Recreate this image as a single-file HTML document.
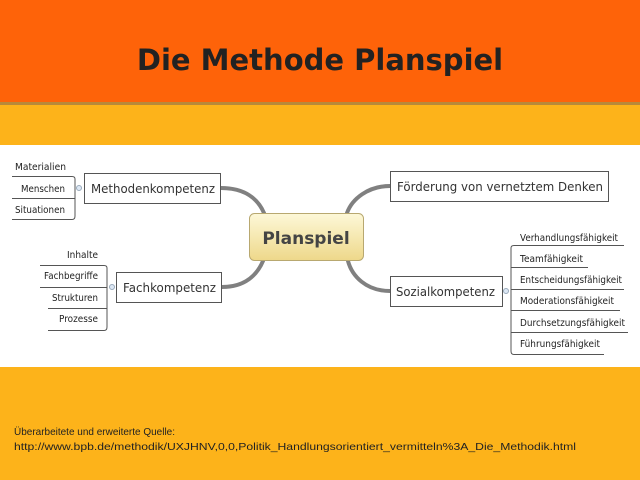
<!DOCTYPE html>
<html><head><meta charset="utf-8"><style>
html,body{margin:0;padding:0;width:640px;height:480px;overflow:hidden;background:#fff}
</style></head><body>
<svg width="640" height="480" viewBox="0 0 640 480" xmlns="http://www.w3.org/2000/svg" font-family="DejaVu Sans, Liberation Sans, sans-serif">
<defs>
<linearGradient id="g" x1="0" y1="0" x2="0" y2="1">
<stop offset="0" stop-color="#fdf8d8"/><stop offset="1" stop-color="#eed88a"/>
</linearGradient>
</defs>
<rect x="0" y="0" width="640" height="102" fill="#fe6309"/>
<rect x="0" y="102" width="640" height="3" fill="#b8893a"/>
<rect x="0" y="105" width="640" height="40" fill="#fdb31a"/>
<rect x="0" y="367" width="640" height="113" fill="#fdb31a"/>
<text x="320" y="70" text-anchor="middle" font-size="29" font-weight="bold" fill="#222">Die Methode Planspiel</text>

<g fill="none" stroke="#808080" stroke-width="4" stroke-linecap="round">
<path d="M221,188 C245,188 258,199 264,213"/>
<path d="M390,186 C368,186 352,199 347,213"/>
<path d="M222,287 C245,287 257,275 263,261"/>
<path d="M390,291 C366,291 352,276 348,261"/>
</g>
<rect x="249.5" y="213.5" width="114" height="47" rx="5" fill="url(#g)" stroke="#b8a870"/>
<text x="306" y="244" text-anchor="middle" font-size="17" font-weight="bold" fill="#444">Planspiel</text>

<g fill="#fff" stroke="#555">
<rect x="84.5" y="173.5" width="136" height="30"/>
<rect x="116.5" y="272.5" width="105" height="30"/>
<rect x="390.5" y="171.5" width="218" height="30"/>
<rect x="390.5" y="276.5" width="112" height="30"/>
</g>
<g font-size="12.5" fill="#333" lengthAdjust="spacingAndGlyphs">
<text x="91" y="193" textLength="124" lengthAdjust="spacingAndGlyphs">Methodenkompetenz</text>
<text x="123" y="292" textLength="93" lengthAdjust="spacingAndGlyphs">Fachkompetenz</text>
<text x="397" y="191" textLength="206" lengthAdjust="spacingAndGlyphs">Förderung von vernetztem Denken</text>
<text x="396" y="296" textLength="99" lengthAdjust="spacingAndGlyphs">Sozialkompetenz</text>
</g>
<g fill="#dde8f5" stroke="#9ab">
<circle cx="79" cy="188" r="2.5"/><circle cx="112" cy="287" r="2.5"/><circle cx="506" cy="291" r="2.5"/>
</g>
<g fill="none" stroke="#555" stroke-width="1">
<path d="M12,176.5 H72 Q75,176.5 75,179 V216 Q75,219.5 72,219.5 H12"/>
<path d="M12,198.5 H75"/>
<path d="M40,265.5 H104 Q107,265.5 107,268 V327 Q107,330.5 104,330.5 H48"/>
<path d="M40,287.5 H107 M48,308.5 H107"/>
<path d="M624,245.5 H514 Q511,245.5 511,248 V351 Q511,354.5 514,354.5 H604"/>
<path d="M511,267.5 H588 M511,289.5 H624 M511,310.5 H620 M511,332.5 H628"/>
</g>
<g font-size="9.5" fill="#222">
<text x="15" y="170" textLength="51" lengthAdjust="spacingAndGlyphs">Materialien</text>
<text x="21" y="192" textLength="44" lengthAdjust="spacingAndGlyphs">Menschen</text>
<text x="15" y="213" textLength="50" lengthAdjust="spacingAndGlyphs">Situationen</text>
<text x="67" y="258" textLength="31" lengthAdjust="spacingAndGlyphs">Inhalte</text>
<text x="44" y="279" textLength="54" lengthAdjust="spacingAndGlyphs">Fachbegriffe</text>
<text x="52" y="301" textLength="46" lengthAdjust="spacingAndGlyphs">Strukturen</text>
<text x="59" y="322" textLength="39" lengthAdjust="spacingAndGlyphs">Prozesse</text>
<text x="520" y="241" textLength="98" lengthAdjust="spacingAndGlyphs">Verhandlungsfähigkeit</text>
<text x="520" y="262" textLength="63" lengthAdjust="spacingAndGlyphs">Teamfähigkeit</text>
<text x="520" y="283" textLength="102" lengthAdjust="spacingAndGlyphs">Entscheidungsfähigkeit</text>
<text x="520" y="304" textLength="94" lengthAdjust="spacingAndGlyphs">Moderationsfähigkeit</text>
<text x="520" y="326" textLength="105" lengthAdjust="spacingAndGlyphs">Durchsetzungsfähigkeit</text>
<text x="520" y="347" textLength="80" lengthAdjust="spacingAndGlyphs">Führungsfähigkeit</text>
</g>
<g font-family="Liberation Sans, sans-serif" font-size="10.5" fill="#222">
<text x="14" y="435" textLength="161" lengthAdjust="spacingAndGlyphs">Überarbeitete und erweiterte Quelle:</text>
<text x="14" y="450" textLength="562" lengthAdjust="spacingAndGlyphs">http://www.bpb.de/methodik/UXJHNV,0,0,Politik_Handlungsorientiert_vermitteln%3A_Die_Methodik.html</text>
</g>
</svg>
</body></html>
